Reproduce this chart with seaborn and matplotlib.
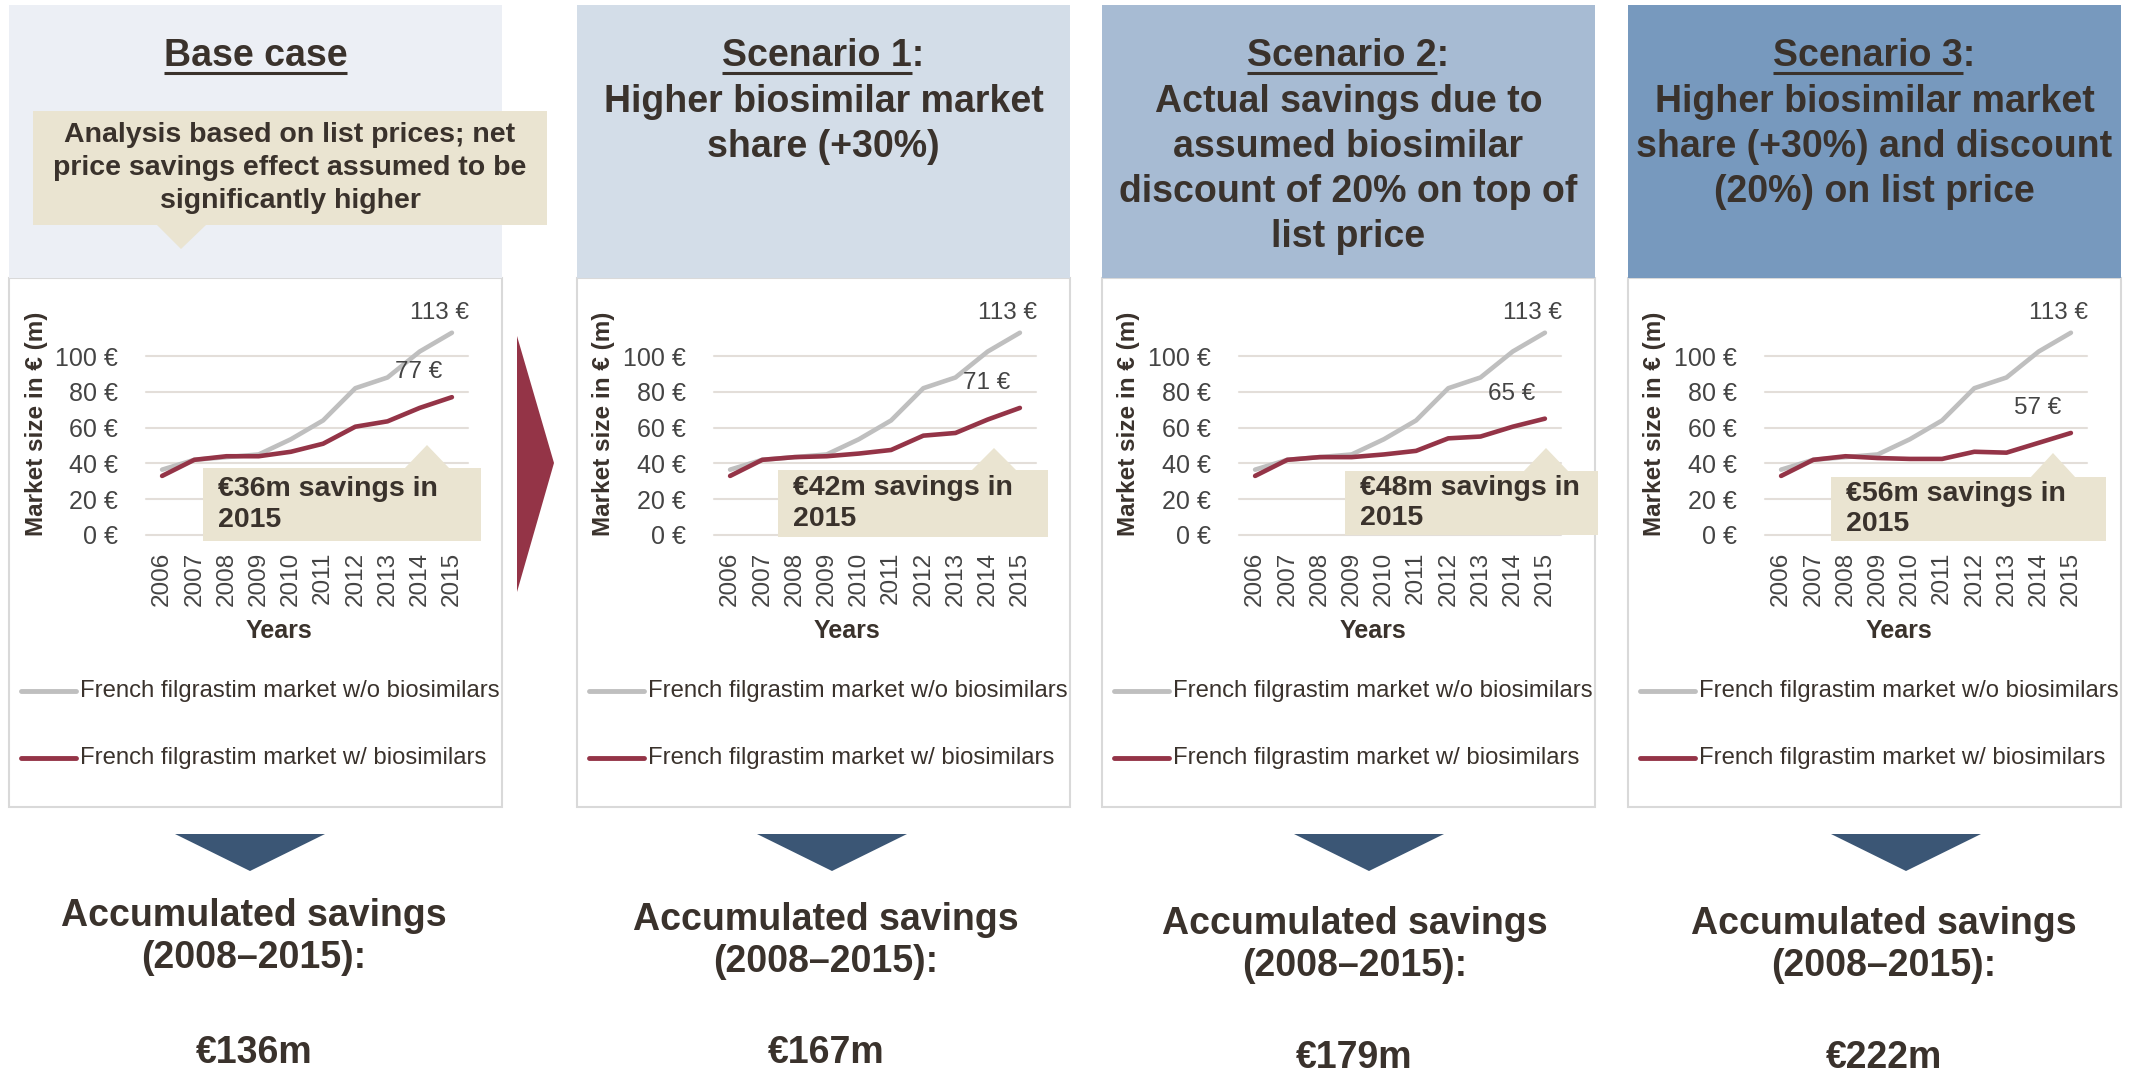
import matplotlib
matplotlib.use("Agg")
import matplotlib.pyplot as plt
from matplotlib.patches import Rectangle, Polygon
import seaborn as sns
import pandas as pd

# ---- data ----
years = [2006, 2007, 2008, 2009, 2010, 2011, 2012, 2013, 2014, 2015]
market_without = [36.5, 42, 43.5, 45, 53.5, 64, 82, 88, 102.5, 113]
base_case = [33, 42, 44, 44, 46.5, 51, 60.5, 63.5, 71, 77]
scenario_1 = [33, 42, 43.5, 44, 45.5, 47.5, 55.5, 57, 64.5, 71]
scenario_2 = [33, 42, 43.5, 43.5, 45, 47, 54, 55, 60.5, 65]
scenario_3 = [33, 42, 44, 43, 42.5, 42.5, 46.5, 46, 51.5, 57]
scenarios = [base_case, scenario_1, scenario_2, scenario_3]

series_names = ["French filgrastim market w/o biosimilars",
                "French filgrastim market w/ biosimilars"]
panel_titles = ["Base case", "Scenario 1", "Scenario 2", "Scenario 3"]
panel_subtitles = [
    [],
    ["Higher biosimilar market", "share (+30%)"],
    ["Actual savings due to", "assumed biosimilar", "discount of 20% on top of", "list price"],
    ["Higher biosimilar market", "share (+30%) and discount", "(20%) on list price"],
]
base_note = "Analysis based on list prices; net\nprice savings effect assumed to be\nsignificantly higher"
savings_2015 = ["€36m", "€42m", "€48m", "€56m"]
accumulated = ["€136m", "€167m", "€179m", "€222m"]
yticks = [0, 20, 40, 60, 80, 100]

# ---- layout (pixels) ----
W, H = 2138, 1073
panel_left = [9, 577, 1102, 1628]
panel_w = 493
header_colors = ["#ECEFF5", "#D3DDE8", "#A7BBD3", "#7799BE"]
callout_boxes = [(203, 468, 481, 541), (778, 470, 1048, 537),
                 (1345, 471, 1598, 535), (1831, 477, 2106, 541)]
callout_tips = [(427, 445), (994, 448), (1546, 448), (2053, 453)]
down_centers = [250, 832, 1369, 1906]
bottom_y = [937, 941, 945, 945]
value_y = [1053, 1053, 1058, 1058]

dark = "#3A322C"
tick_col = "#444444"
grey_line = "#BFBFBF"
red_line = "#943447"
beige = "#EAE4D1"
border = "#D9D9D9"

sns.set_style("white")
plt.rcParams["font.family"] = ["Liberation Sans", "DejaVu Sans"]
plt.rcParams["lines.solid_capstyle"] = "round"

fig = plt.figure(figsize=(W / 100, H / 100), dpi=100)
fig.patch.set_facecolor("white")


def overlay(z):
    a = fig.add_axes([0, 0, 1, 1], zorder=z)
    a.set_xlim(0, W)
    a.set_ylim(H, 0)
    a.axis("off")
    return a


back = overlay(0)
front = overlay(5)

# panel boxes and headers
for i, x0 in enumerate(panel_left):
    back.add_patch(Rectangle((x0, 278), panel_w, 807 - 278, facecolor="white",
                             edgecolor=border, lw=1.5))
    back.add_patch(Rectangle((x0, 5), panel_w, 273, facecolor=header_colors[i],
                             edgecolor="none"))

renderer = fig.canvas.get_renderer()
for i, x0 in enumerate(panel_left):
    cx = x0 + panel_w / 2
    title = panel_titles[i] + ("" if i == 0 else ":")
    t = front.text(cx, 56, title, ha="center", va="center", fontsize=27,
                   fontweight="bold", color=dark)
    full_w = t.get_window_extent(renderer).width
    tmp = front.text(0, 0, panel_titles[i], fontsize=27, fontweight="bold")
    part_w = tmp.get_window_extent(renderer).width
    tmp.remove()
    front.plot([cx - full_w / 2, cx - full_w / 2 + part_w], [73, 73],
               color=dark, lw=2.2, solid_capstyle="butt")
    for j, line in enumerate(panel_subtitles[i]):
        front.text(cx, 102 + 45 * j, line, ha="center", va="center",
                   fontsize=27, fontweight="bold", color=dark)

# base case note callout
front.add_patch(Rectangle((33, 111), 514, 114, facecolor=beige, edgecolor="none"))
front.add_patch(Polygon([(157, 225), (206, 225), (181, 249)], facecolor=beige,
                        edgecolor="none"))
front.text(290, 168, base_note, ha="center", va="center", fontsize=20.5,
           fontweight="bold", color=dark, linespacing=1.33)

# red arrow between base case and scenarios
front.add_patch(Polygon([(517, 336), (554, 463), (517, 592)], facecolor=red_line,
                        edgecolor="none"))

# charts
for i, x0 in enumerate(panel_left):
    ax_left = x0 + 137
    ax = fig.add_axes([ax_left / W, (H - 535) / H, 322 / W, 214.8 / H], zorder=2)
    ax.patch.set_alpha(0)
    df = pd.DataFrame({
        "Year": years * 2,
        "Market size": market_without + scenarios[i],
        "Series": [series_names[0]] * len(years) + [series_names[1]] * len(years),
    })
    for v in yticks:
        ax.axhline(v, color="#E3DED9", lw=1.5, zorder=0)
    sns.lineplot(data=df, x="Year", y="Market size", hue="Series",
                 hue_order=series_names, palette=[grey_line, red_line],
                 linewidth=3.3, legend=False, ax=ax)
    for ln in ax.lines:
        ln.set_clip_on(False)
    ax.set_xlim(2005.5, 2015.5)
    ax.set_ylim(0, 120)
    ax.set_xticks(years)
    ax.set_xticklabels([str(y) for y in years], rotation=90, fontsize=17.5,
                       color=tick_col)
    ax.set_yticks(yticks)
    ax.set_yticklabels([f"{v} €" for v in yticks], fontsize=18, color=tick_col)
    ax.tick_params(axis="x", length=0, pad=12)
    ax.tick_params(axis="y", length=0, pad=20)
    sns.despine(ax=ax, left=True, bottom=True)
    ax.set_xlabel("Years", fontsize=18, fontweight="bold", color=dark)
    ax.xaxis.set_label_coords(133.5 / 322, (535 - 631) / 214.8)
    ax.xaxis.label.set_va("center")
    ax.set_ylabel("Market size in € (m)", fontsize=17.5, fontweight="bold",
                  color=dark)
    ax.yaxis.set_label_coords((x0 + 27 - ax_left) / 322, (535 - 424) / 214.8)
    ax.yaxis.label.set_va("center")

    ax.annotate(f"{round(market_without[-1])} €", xy=(years[-1], market_without[-1]),
                xytext=(-12, 20), textcoords="offset pixels", ha="center",
                va="center", fontsize=17.5, color=tick_col)
    ax.annotate(f"{round(scenarios[i][-1])} €", xy=(years[-1], scenarios[i][-1]),
                xytext=(-33, 25), textcoords="offset pixels", ha="center",
                va="center", fontsize=17.5, color=tick_col)

    # savings callout
    bx0, by0, bx1, by1 = callout_boxes[i]
    tx, ty = callout_tips[i]
    front.add_patch(Rectangle((bx0, by0), bx1 - bx0, by1 - by0, facecolor=beige,
                              edgecolor="none"))
    front.add_patch(Polygon([(tx - 23, by0 + 1), (tx + 23, by0 + 1), (tx, ty)],
                            facecolor=beige, edgecolor="none"))
    front.text(bx0 + 15, (by0 + by1) / 2, f"{savings_2015[i]} savings in\n2015",
               ha="left", va="center", fontsize=20.5, fontweight="bold",
               color=dark, linespacing=1.24)

    # legend
    for k, (yy, col) in enumerate([(691, grey_line), (758, red_line)]):
        front.plot([x0 + 12, x0 + 67], [yy, yy], color=col, lw=3.5,
                   solid_capstyle="round")
        front.text(x0 + 71, yy, series_names[k], ha="left", va="center",
                   fontsize=17.2, color=dark)

    # down arrow and accumulated savings
    c = down_centers[i]
    front.add_patch(Polygon([(c - 75, 834), (c + 75, 834), (c, 871)],
                            facecolor="#3B5675", edgecolor="none"))
    bx = x0 + panel_w / 2 + (c - x0 - panel_w / 2) * 0.3
    front.text(bx, bottom_y[i], "Accumulated savings\n(2008–2015):",
               ha="center", va="center", fontsize=27, fontweight="bold",
               color=dark, linespacing=1.2)
    front.text(bx, value_y[i], accumulated[i], ha="center", va="center",
               fontsize=27, fontweight="bold", color=dark)

fig.savefig("out.png", dpi=100)
